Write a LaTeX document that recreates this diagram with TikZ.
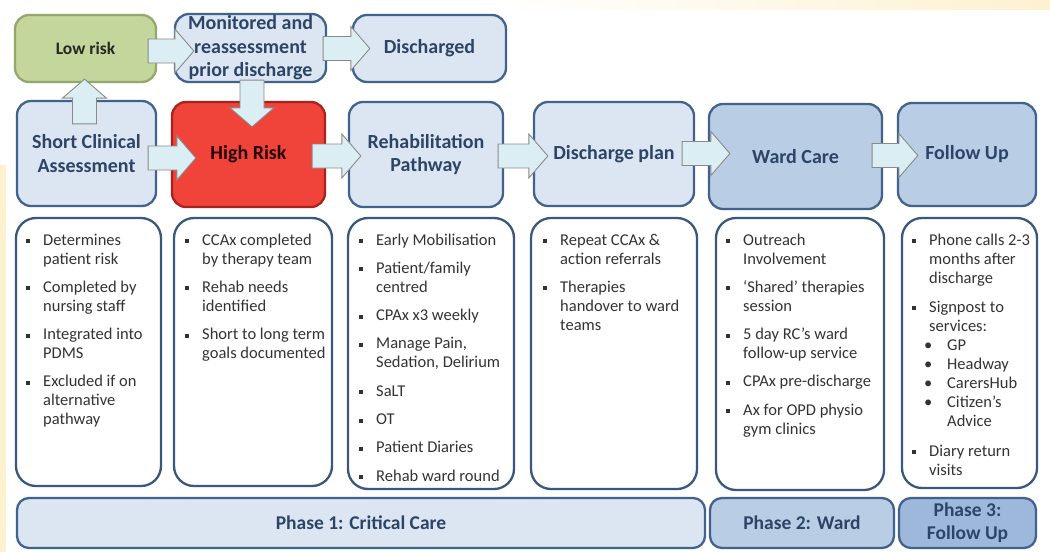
\documentclass[tikz,border=0pt]{standalone}
\usepackage{fontspec}
\setmainfont{Carlito}
\usetikzlibrary{calc}
\definecolor{lb}{HTML}{DCE6F2}
\definecolor{mb}{HTML}{B9CDE5}
\definecolor{db}{HTML}{9DB8DA}
\definecolor{bord}{HTML}{41628C}
\definecolor{dbord}{HTML}{3A587E}
\definecolor{gfill}{HTML}{C3D69B}
\definecolor{gbord}{HTML}{93A86A}
\definecolor{rfill}{HTML}{F0433A}
\definecolor{rbord}{HTML}{A8231C}
\definecolor{afill}{HTML}{DBEEF4}
\definecolor{abord}{HTML}{8A8A8A}
\definecolor{htext}{HTML}{2C4567}
\definecolor{btext}{HTML}{333333}
\definecolor{bgyel}{HTML}{FDF1D0}
\newcommand\sqb{\makebox[17pt][l]{\raisebox{2pt}{\rule{4pt}{4pt}}}}
\newcommand\rdb{\hspace{-5pt}\makebox[23pt][l]{\textbullet}}
\newcommand\boxat[7]{\node[#6, minimum width={(#4-#2)*1pt}, minimum height={(#5-#3)*1pt}] (#1) at ({(#2+#4)/2},{(#3+#5)/2}) {#7};}
\tikzset{
  hbox/.style={draw=bord, line width=2.3pt, rounded corners=14pt, fill=lb, inner sep=0pt, align=center, text=htext, font=\bfseries\fontsize{20}{23.5}\selectfont},
  hboxm/.style={hbox, fill=mb},
  lowbox/.style={hbox, draw=gbord, fill=gfill, text=black!85, font=\bfseries\fontsize{17.5}{21}\selectfont},
  highbox/.style={hbox, draw=rbord, fill=rfill, text=black!85!red},
  dbox/.style={draw=dbord, line width=2.3pt, rounded corners=20pt, fill=white, inner sep=0pt},
  pbox/.style={draw=bord, line width=2.3pt, rounded corners=12pt, inner sep=0pt, align=center, text=htext, font=\bfseries\fontsize{19.5}{23}\selectfont},
  dtext/.style={anchor=base west, inner sep=0pt, text=btext, font=\fontsize{16.5}{19}\selectfont},
  barrow/.style={draw=abord, fill=afill, line width=0.9pt, line join=miter,
    to path={let \p1=(\tikztostart), \p2=(\tikztotarget), \n1={atan2(\y2-\y1,\x2-\x1)}, \n2={veclen(\x2-\x1,\y2-\y1)} in
      {[shift={(\p1)}, rotate=\n1] (0,-12) -- ({\n2-19},-12) -- ({\n2-19},-22) -- ({\n2},0) -- ({\n2-19},22) -- ({\n2-19},12) -- (0,12) -- cycle}}}
}
\begin{document}
\begin{tikzpicture}[x=1pt,y=-1pt]
\useasboundingbox (0,0) rectangle (1050,552);
\fill[white] (0,0) rectangle (1050,552);
\shade[left color=white, right color=bgyel] (500,0) rectangle (1050,9);
\fill[bgyel] (0,165) rectangle (6,552);
% top row
\boxat{low}{15}{15}{156}{82}{lowbox}{Low risk}
\boxat{mon}{175}{14}{326}{82}{hbox}{Monitored and\\reassessment\\prior discharge}
\boxat{dis}{353}{15}{506}{82}{hbox}{Discharged}
% second row
\boxat{sca}{17}{101}{156}{206}{hbox}{Short Clinical\\Assessment}
\boxat{hr}{172}{102}{325}{207}{highbox}{High Risk}
\boxat{rp}{349}{102}{503}{207}{hbox}{Rehabilitation\\Pathway}
\boxat{dp}{534}{102}{694}{206}{hbox}{Discharge plan}
\boxat{wc}{709}{104}{882}{209}{hboxm}{Ward Care}
\boxat{fu}{898}{103}{1036}{206}{hboxm}{Follow Up}
% detail boxes
\boxat{d1}{16}{218}{161}{486}{dbox}{}
\boxat{d2}{174}{218}{332}{486}{dbox}{}
\boxat{d3}{348}{218}{514}{489}{dbox}{}
\boxat{d4}{531}{218}{697}{489}{dbox}{}
\boxat{d5}{716}{218}{884}{490}{dbox}{}
\boxat{d6}{902}{218}{1037}{488}{dbox}{}
% phase bars
\boxat{p1}{17}{498}{705}{548}{pbox, fill=lb}{Phase 1: Critical Care}
\boxat{p2}{710}{498}{894}{548}{pbox, fill=mb}{Phase 2: Ward}
\boxat{p3}{899}{498}{1036}{548}{pbox, fill=db}{Phase 3:\\Follow Up}
% detail texts
\node[dtext] (t1) at (26,245) {\begin{tabular}[t]{@{}l@{}l@{}}
\sqb & Determines\\ & patient risk\\[9.3pt]
\sqb & Completed by\\ & nursing staff\\[9.3pt]
\sqb & Integrated into\\ & PDMS\\[9.3pt]
\sqb & Excluded if on\\ & alternative\\ & pathway
\end{tabular}};
\node[dtext] (t2) at (185,245) {\begin{tabular}[t]{@{}l@{}l@{}}
\sqb & CCAx completed\\ & by therapy team\\[9.3pt]
\sqb & Rehab needs\\ & identified\\[9.3pt]
\sqb & Short to long term\\ & goals documented
\end{tabular}};
\node[dtext] (t3) at (359,245) {\begin{tabular}[t]{@{}l@{}l@{}}
\sqb & Early Mobilisation\\[9.3pt]
\sqb & Patient/family\\ & centred\\[9.3pt]
\sqb & CPAx x3 weekly\\[9.3pt]
\sqb & Manage Pain,\\ & Sedation, Delirium\\[9.3pt]
\sqb & SaLT\\[9.3pt]
\sqb & OT\\[9.3pt]
\sqb & Patient Diaries\\[9.3pt]
\sqb & Rehab ward round
\end{tabular}};
\node[dtext] (t4) at (543,245) {\begin{tabular}[t]{@{}l@{}l@{}}
\sqb & Repeat CCAx \&\\ & action referrals\\[9.3pt]
\sqb & Therapies\\ & handover to ward\\ & teams
\end{tabular}};
\node[dtext] (t5) at (726,245) {\begin{tabular}[t]{@{}l@{}l@{}}
\sqb & Outreach\\ & Involvement\\[9.3pt]
\sqb & ‘Shared’ therapies\\ & session\\[9.3pt]
\sqb & 5 day RC’s ward\\ & follow-up service\\[9.3pt]
\sqb & CPAx pre-discharge\\[9.3pt]
\sqb & Ax for OPD physio\\ & gym clinics
\end{tabular}};
\node[dtext] (t6) at (912,245) {\begin{tabular}[t]{@{}l@{}l@{}}
\sqb & Phone calls 2-3\\ & months after\\ & discharge\\[10pt]
\sqb & Signpost to\\ & services:\\
 & \rdb GP\\
 & \rdb Headway\\
 & \rdb CarersHub\\
 & \rdb Citizen’s\\
 & \hspace{18pt}Advice\\[11pt]
\sqb & Diary return\\ & visits
\end{tabular}};
% block arrows
\coordinate (a1) at ($(low.east)+(-9,2.5)$);
\draw[barrow] (a1) to ($(a1 -| mon.west)+(20,0)$);
\coordinate (a2) at ($(mon.east)+(-4,0.5)$);
\draw[barrow] (a2) to ($(a2 -| dis.west)+(18,0)$);
\coordinate (a3) at ($(sca.north)+(-2,24)$);
\draw[barrow] (a3) to ($(a3 |- low.south)+(0,-4)$);
\coordinate (a4) at ($(mon.south)+(1.5,-3)$);
\draw[barrow] (a4) to ($(a4 |- hr.north)+(0,26)$);
\coordinate (a5) at ($(sca.east)+(-9,4.5)$);
\draw[barrow] (a5) to ($(a5 -| hr.west)+(25,0)$);
\coordinate (a6) at ($(hr.east)+(-14,1.5)$);
\draw[barrow] (a6) to ($(a6 -| rp.west)+(13,0)$);
\coordinate (a7) at ($(rp.east)+(-6,1.5)$);
\draw[barrow] (a7) to ($(a7 -| dp.west)+(15,0)$);
\coordinate (a8) at ($(dp.east)+(-13,-0.5)$);
\draw[barrow] (a8) to ($(a8 -| wc.west)+(22,0)$);
\coordinate (a9) at ($(wc.east)+(-11,-1)$);
\draw[barrow] (a9) to ($(a9 -| fu.west)+(21,0)$);
\end{tikzpicture}
\end{document}
